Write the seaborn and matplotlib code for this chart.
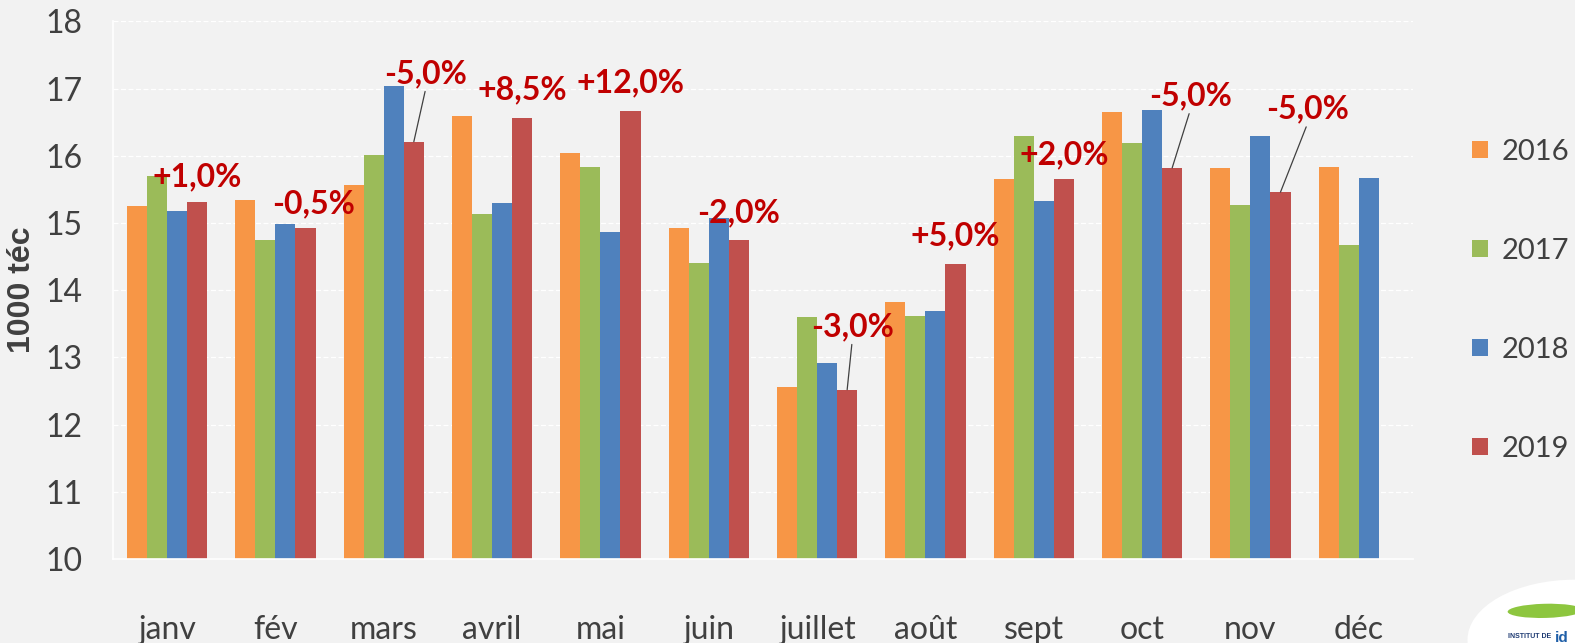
import matplotlib
matplotlib.use("Agg")
import matplotlib.pyplot as plt
import numpy as np
import pandas as pd
import seaborn as sns
from matplotlib.patches import Ellipse

MONTHS = ["janv", "fév", "mars", "avril", "mai", "juin",
          "juillet", "août", "sept", "oct", "nov", "déc"]
YEARS = ["2016", "2017", "2018", "2019"]

V2016 = [15.25, 15.34, 15.56, 16.59, 16.04, 14.93, 12.56, 13.82, 15.66, 16.65, 15.82, 15.83]
V2017 = [15.70, 14.74, 16.01, 15.14, 15.83, 14.40, 13.60, 13.61, 16.30, 16.19, 15.27, 14.67]
V2018 = [15.18, 14.99, 17.04, 15.30, 14.87, 15.08, 12.91, 13.69, 15.33, 16.68, 16.30, 15.67]
V2019 = [15.31, 14.92, 16.21, 16.56, 16.66, 14.75, 12.52, 14.39, 15.66, 15.82, 15.46, np.nan]

CHANGES = ["+1,0%", "-0,5%", "-5,0%", "+8,5%", "+12,0%", "-2,0%",
           "-3,0%", "+5,0%", "+2,0%", "-5,0%", "-5,0%", None]

# label offsets (pixels) from top of the 2019 bar, and whether a leader line is drawn
LABEL_OFFSETS = [(0, 25), (8, 25), (12, 68), (0, 28), (0, 29), (0, 27),
                 (5, 63), (0, 28), (0, 24), (18, 72), (27, 83), None]
LEADER = [False, False, True, False, False, False,
          True, False, False, True, True, False]

COLORS = ["#F79646", "#9BBB59", "#4F81BD", "#C0504D"]
BG = "#F2F2F2"
TXT = "#404040"
RED = "#C00000"

df = pd.DataFrame({
    "mois": MONTHS * 4,
    "annee": sum([[y] * 12 for y in YEARS], []),
    "valeur": V2016 + V2017 + V2018 + V2019,
})

sns.set_theme(style="white")
plt.rcParams["font.family"] = ["Lato", "DejaVu Sans"]

fig = plt.figure(figsize=(15.75, 6.43), dpi=100, facecolor=BG)
ax = fig.add_axes([0.0717, 0.1306, 0.8254, 0.8361])
ax.set_facecolor(BG)

sns.barplot(data=df, x="mois", y="valeur", hue="annee", order=MONTHS,
            hue_order=YEARS, palette=COLORS, saturation=1, width=0.74,
            errorbar=None, ax=ax, linewidth=0)

ax.set_ylim(10, 18)
ax.set_xlim(-0.5, 11.5)
ax.set_yticks(range(10, 19))
ax.yaxis.grid(True, color="white", linestyle=(0, (4, 2)), linewidth=0.9)
ax.set_axisbelow(True)

for s in ["top", "right"]:
    ax.spines[s].set_visible(False)
for s in ["left", "bottom"]:
    ax.spines[s].set_color("white")
    ax.spines[s].set_linewidth(1.2)

ax.tick_params(axis="y", length=0, pad=22, labelsize=23, labelcolor=TXT)
ax.tick_params(axis="x", which="major", length=0, pad=40, labelsize=23, labelcolor=TXT)
ax.set_xticks(np.arange(-0.5, 12, 1), minor=True)
ax.tick_params(axis="x", which="minor", length=8, color="white", width=1.2)

ax.set_xlabel("")
ax.set_ylabel("1000 téc", fontsize=23, fontweight="bold", color=TXT,
              family=["Liberation Sans", "DejaVu Sans"])
ax.yaxis.set_label_coords(-0.0585, 0.5)

# change labels above 2019 bars
red_bars = ax.containers[3]
for i, (txt, off, lead) in enumerate(zip(CHANGES, LABEL_OFFSETS, LEADER)):
    if txt is None:
        continue
    bar = red_bars[i]
    bx = bar.get_x() + bar.get_width() / 2
    by = bar.get_height() + bar.get_y()
    arrow = None
    if lead:
        arrow = dict(arrowstyle="-", color=TXT, lw=0.9, shrinkA=0, shrinkB=0,
                     relpos=(0.5, 0))
    ax.annotate(txt, xy=(bx, by), xytext=off, textcoords="offset pixels",
                ha="center", va="center", fontsize=23, fontweight="bold",
                color=RED, arrowprops=arrow)

handles, labels = ax.get_legend_handles_labels()
ax.get_legend().remove()
fig.legend(handles, labels, loc="center left", bbox_to_anchor=(0.9346, 0.533),
           frameon=False, fontsize=21, labelcolor=TXT, handlelength=0.55,
           handleheight=0.55, handletextpad=0.45, labelspacing=2.5,
           borderpad=0, borderaxespad=0)

# logo in the corner
fig.patches.append(Ellipse((1.0, 0.005), 0.1365, 0.187, transform=fig.transFigure,
                           facecolor="white", edgecolor="none"))
fig.patches.append(Ellipse((0.981, 0.05), 0.0476, 0.022, angle=4,
                           transform=fig.transFigure, facecolor="#8DC63F",
                           edgecolor="none"))
fig.text(0.9575, 0.008, "INSTITUT DE", fontsize=5, fontweight="bold",
         color="#1F3B73", family=["Liberation Sans", "DejaVu Sans"])
fig.text(0.9875, 0.002, "id", fontsize=11, fontweight="bold", color="#1F5FA8",
         family=["Liberation Sans", "DejaVu Sans"])

fig.savefig("out.png", dpi=100, facecolor=BG)
